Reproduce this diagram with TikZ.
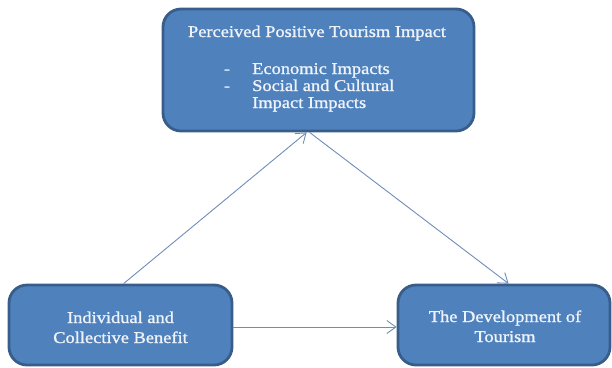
\documentclass[tikz,border=0pt]{standalone}
\usepackage{fontspec}
\setmainfont[FakeStretch=1.12,FakeBold=1.2]{Liberation Serif}
\usetikzlibrary{arrows.meta,calc}
\definecolor{boxfill}{HTML}{4F81BD}
\definecolor{boxline}{HTML}{385D8A}
\definecolor{linkcol}{HTML}{6F8DB8}
\definecolor{txt}{HTML}{EEF3FA}
\begin{document}
\begin{tikzpicture}[x=1bp,y=-1bp,
  box/.style={draw=boxline,fill=boxfill,line width=2.8bp,rounded corners=18bp,inner sep=0pt},
  lbl/.style={text=txt,font=\fontsize{16.5}{17}\selectfont,inner sep=0pt,anchor=base},
  link/.style={draw=linkcol,line width=0.9bp,-{Straight Barb[length=9bp,width=13bp,line width=0.9bp]}}]
\useasboundingbox (0,0) rectangle (612,367);

% the three boxes
\node[box,minimum width=311bp,minimum height=122bp] (impact) at (318.5,70) {};
\node[box,minimum width=223bp,minimum height=80bp] (benefit) at (120.5,325) {};
\node[box,minimum width=212bp,minimum height=80bp] (devel) at (504,325) {};

% texts of the top box
\node[lbl] (title) at (317,37) {Perceived Positive Tourism Impact};
\node[lbl,anchor=base] (d1) at (227,74) {-};
\node[lbl,anchor=base] (d2) at (227,91) {-};
\node[lbl,anchor=base west] (i1) at (252,74) {Economic Impacts};
\node[lbl,anchor=base west] (i2) at (252,91) {Social and Cultural};
\node[lbl,anchor=base west] (i3) at (252,108) {Impact Impacts};

% texts of the bottom boxes
\node[lbl] (b1) at (120.5,323) {Individual and};
\node[lbl] (b2) at (120.5,343) {Collective Benefit};
\node[lbl] (t1) at (505,322) {The Development of};
\node[lbl] (t2) at (505,342) {Tourism};

% connectors
\coordinate (benefitTop) at ($(benefit.north west)+(116,0)$);
\coordinate (impactInL) at ($(impact.south west)+(145,0)$);
\coordinate (impactOutR) at ($(impact.south west)+(148,0)$);
\coordinate (develTop) at ($(devel.north west)+(112,0)$);
\draw[link] (benefitTop) -- (impactInL);
\draw[link] (impactOutR) -- (develTop);
\draw[link] (benefit.east |- 0,327) -- (devel.west |- 0,327);
\end{tikzpicture}
\end{document}
